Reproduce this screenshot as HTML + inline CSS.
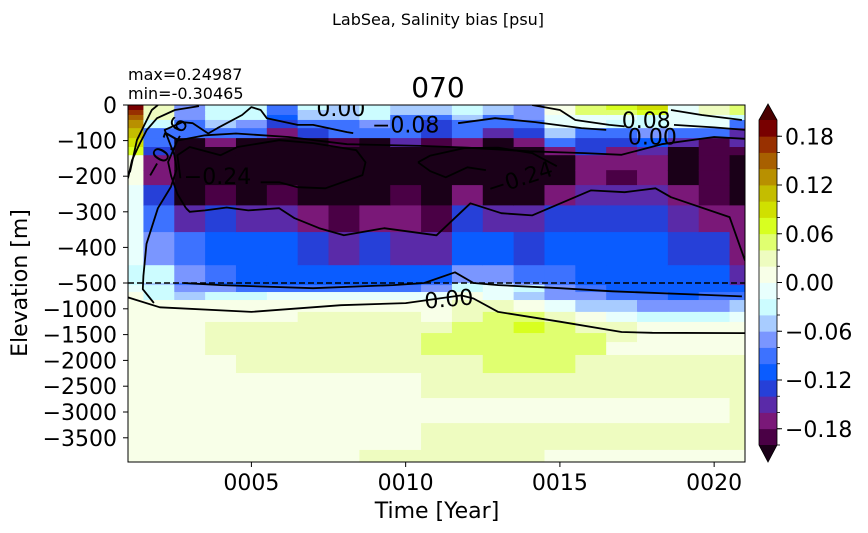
<!DOCTYPE html>
<html><head><meta charset="utf-8">
<style>
body{margin:0;background:#fff;}
svg{display:block;font-family:"DejaVu Sans","Liberation Sans",sans-serif;}
</style></head>
<body>
<svg id="chart" width="868" height="533" viewBox="0 0 868 533" xmlns="http://www.w3.org/2000/svg">
<text x="438" y="25" font-size="16" text-anchor="middle">LabSea, Salinity bias [psu]</text>
<text x="438" y="97" font-size="28" text-anchor="middle">070</text>
<text x="128" y="80" font-size="16">max=0.24987</text>
<text x="128" y="99" font-size="16">min=-0.30465</text>
<text transform="translate(27,283) rotate(-90)" font-size="22" text-anchor="middle">Elevation [m]</text>
<text x="437" y="518" font-size="22" text-anchor="middle">Time [Year]</text>
<defs><clipPath id="plotclip"><rect x="128" y="105" width="617" height="357"/></clipPath></defs>
<g id="cells" clip-path="url(#plotclip)"></g>
<g id="contours" clip-path="url(#plotclip)"></g>
<line x1="128" y1="283" x2="745" y2="283" stroke="#000" stroke-width="1.6" stroke-dasharray="6,3"/>
<rect x="128" y="105" width="617" height="357" fill="none" stroke="#000" stroke-width="1"/>
<g id="axes"></g>
<g id="cbar"></g>
</svg>
<script>
// ---- data ----
const years = [1,2,3,4,5,6,7,8,9,10,11,12,13,14,15,16,17,18,19,20,21];
const upperDepthEdges = [0,14,28,42,65,93,118,141,183,225,282,357,450,500];
// upper section: one array per year column (13 depth rows, top->bottom)
const upperByYear = [
[0.19,0.17,0.15,0.13,0.11,0.09,0.07,0.01,0.01,-0.01,-0.01,-0.01,-0.03],
[0.03,0.03,0.03,-0.03,-0.09,-0.09,-0.13,-0.17,-0.17,-0.13,-0.09,-0.07,-0.03],
[-0.07,-0.07,-0.07,-0.09,-0.09,-0.25,-0.25,-0.25,-0.25,-0.25,-0.15,-0.09,-0.07],
[-0.03,-0.03,-0.03,-0.05,-0.09,-0.17,-0.25,-0.25,-0.25,-0.19,-0.13,-0.11,-0.09],
[-0.03,-0.03,-0.03,-0.07,-0.09,-0.25,-0.25,-0.25,-0.25,-0.25,-0.15,-0.11,-0.11],
[-0.09,-0.09,-0.11,-0.13,-0.17,-0.25,-0.25,-0.25,-0.25,-0.19,-0.15,-0.11,-0.11],
[-0.03,-0.05,-0.05,-0.09,-0.13,-0.25,-0.25,-0.25,-0.25,-0.25,-0.17,-0.13,-0.11],
[-0.05,-0.05,-0.05,-0.09,-0.09,-0.19,-0.25,-0.25,-0.25,-0.25,-0.19,-0.15,-0.11],
[-0.03,-0.03,-0.03,-0.07,-0.09,-0.25,-0.25,-0.25,-0.25,-0.25,-0.17,-0.13,-0.11],
[-0.05,-0.05,-0.09,-0.09,-0.09,-0.15,-0.25,-0.25,-0.25,-0.19,-0.17,-0.15,-0.11],
[-0.05,-0.05,-0.09,-0.13,-0.13,-0.19,-0.25,-0.25,-0.25,-0.25,-0.19,-0.15,-0.11],
[-0.03,-0.03,-0.05,-0.09,-0.09,-0.17,-0.25,-0.25,-0.25,-0.17,-0.13,-0.11,-0.07],
[-0.05,-0.05,-0.09,-0.09,-0.15,-0.25,-0.25,-0.25,-0.25,-0.25,-0.15,-0.11,-0.07],
[-0.07,-0.07,-0.07,-0.09,-0.13,-0.17,-0.25,-0.25,-0.25,-0.25,-0.15,-0.13,-0.09],
[0.01,0.01,-0.01,-0.01,-0.05,-0.09,-0.17,-0.25,-0.25,-0.17,-0.13,-0.11,-0.09],
[0.05,0.05,-0.01,-0.01,-0.09,-0.13,-0.13,-0.17,-0.17,-0.15,-0.13,-0.11,-0.11],
[0.07,0.05,-0.01,-0.03,-0.09,-0.13,-0.17,-0.17,-0.19,-0.15,-0.13,-0.11,-0.11],
[0.09,0.07,-0.03,-0.03,-0.07,-0.11,-0.15,-0.17,-0.17,-0.15,-0.13,-0.11,-0.11],
[-0.01,-0.01,-0.01,-0.01,-0.09,-0.15,-0.25,-0.25,-0.25,-0.17,-0.15,-0.13,-0.11],
[0.03,0.03,-0.01,-0.01,-0.09,-0.19,-0.19,-0.19,-0.19,-0.19,-0.17,-0.13,-0.11],
[0.05,0.05,-0.03,-0.09,-0.15,-0.15,-0.19,-0.25,-0.25,-0.25,-0.17,-0.17,-0.15]
];
const lowerDepthEdges = [500,540,675,830,1060,1255,1470,1645,1895,2245,2730,3215,3735,3970];
// lower section: one array per depth row (21 year columns)
const lowerByDepth = [
[-0.03,-0.05,-0.09,-0.11,-0.11,-0.11,-0.11,-0.11,-0.11,-0.11,-0.09,-0.03,-0.05,-0.07,-0.09,-0.11,-0.11,-0.11,-0.11,-0.11,-0.15],
[-0.01,-0.03,-0.07,-0.07,-0.09,-0.09,-0.09,-0.09,-0.09,-0.09,-0.07,-0.03,-0.01,-0.03,-0.07,-0.09,-0.11,-0.11,-0.11,-0.11,-0.11],
[0.01,-0.03,-0.05,-0.03,-0.03,-0.01,-0.01,-0.01,-0.01,-0.01,-0.01,0.01,-0.01,-0.05,-0.07,-0.07,-0.09,-0.09,-0.11,-0.09,-0.09],
[0.01,0.01,0.01,0.01,0.01,0.01,0.01,0.01,0.01,0.01,0.01,0.03,0.03,0.01,-0.01,-0.05,-0.05,-0.07,-0.07,-0.07,-0.05],
[0.01,0.01,0.01,0.01,0.01,0.01,0.03,0.03,0.03,0.03,0.01,0.03,0.05,0.05,0.03,0.01,-0.01,-0.03,-0.03,-0.03,-0.01],
[0.01,0.01,0.01,0.03,0.03,0.03,0.03,0.03,0.03,0.03,0.03,0.05,0.05,0.07,0.05,0.03,0.03,0.01,0.01,0.01,0.01],
[0.01,0.01,0.01,0.03,0.03,0.03,0.03,0.03,0.03,0.03,0.05,0.05,0.05,0.05,0.05,0.05,0.03,0.01,0.01,0.01,0.01],
[0.01,0.01,0.01,0.03,0.03,0.03,0.03,0.03,0.03,0.03,0.05,0.05,0.05,0.05,0.05,0.05,0.01,0.01,0.01,0.01,0.01],
[0.01,0.01,0.01,0.01,0.03,0.03,0.03,0.03,0.03,0.03,0.03,0.03,0.05,0.05,0.05,0.03,0.03,0.03,0.03,0.03,0.03],
[0.01,0.01,0.01,0.01,0.01,0.01,0.01,0.01,0.01,0.01,0.03,0.03,0.03,0.03,0.03,0.03,0.03,0.03,0.03,0.03,0.03],
[0.01,0.01,0.01,0.01,0.01,0.01,0.01,0.01,0.01,0.01,0.01,0.01,0.01,0.01,0.01,0.01,0.01,0.01,0.01,0.01,0.03],
[0.01,0.01,0.01,0.01,0.01,0.01,0.01,0.01,0.01,0.01,0.03,0.03,0.03,0.03,0.03,0.03,0.03,0.03,0.03,0.03,0.03],
[0.01,0.01,0.01,0.01,0.01,0.01,0.01,0.01,0.03,0.03,0.03,0.03,0.03,0.03,0.01,0.01,0.01,0.01,0.01,0.01,0.01]
];
const levelColors = ["#4a0045","#7a1878","#5a2aa8","#2640d8","#0a5cff","#3d72ff","#7a96ff","#a8ccff","#ccfcff","#e8fffd","#f8ffe8","#eefcc0","#e0ff70","#d8ff20","#d0e000","#c4bd00","#b89000","#a86000","#983000","#780000"];
const underColor = "#1a0018", overColor = "#4a0000";
const yTickValues = [0,-100,-200,-300,-400,-500,-1000,-1500,-2000,-2500,-3000,-3500];
const xTickYears = [5,10,15,20];
const xTickLabels = ["0005","0010","0015","0020"];
const cbarTickValues = [0.18,0.12,0.06,0.00,-0.06,-0.12,-0.18];
// contours in data space [year, depth m]
const contourLines = [
 {level:"0.08", pts:[[1.06,189],[1.29,99],[1.48,65],[1.77,14],[1.97,0]]},
 {level:"0.00", pts:[[1.0,206],[1.13,155],[1.39,107],[1.61,70],[1.94,37],[2.52,14],[3.3,3]]},
 {level:"-0.08", pts:[[1.84,887],[1.48,620],[1.5,480],[1.6,390],[1.97,290],[2.39,230],[2.58,180],[2.5,140],[2.19,70],[2.19,70],[2.77,48],[3.1,51],[3.6,80],[3.9,65],[4.7,28],[5.0,6],[5.3,14],[5.5,37],[6.5,56],[7.0,56],[8.1,76],[8.3,79]]},
 {level:"-0.08b", pts:[[11.7,51],[12.9,37],[14.2,48],[15.7,65],[16.5,70]]},
 {level:"-0.08c", pts:[[2.8,500],[4.0,540],[7.0,600],[9.6,540],[10.6,500],[11.6,470],[12.2,500],[13.0,540],[15.0,600],[16.7,660],[19.7,730],[20.9,760]]},
 {level:"0.00b", pts:[[1.0,780],[2.03,970],[5.0,1060],[7.9,930],[10.0,890],[11.8,740],[12.2,800],[13.0,1060],[15.0,1250],[17.0,1450],[18.0,1465],[21.0,1470]]},
 {level:"0.08b", pts:[[14.1,0],[15.0,14],[15.5,42],[16.6,56],[17.1,60]]},
 {level:"0.08c", pts:[[18.6,14],[19.6,28],[20.9,42]]},
 {level:"0.00c", pts:[[18.7,56],[20.0,63],[21.0,70]]},
 {level:"-0.16", pts:[[2.88,290],[2.6,250],[2.4,200],[2.3,160],[2.6,100],[3.5,85],[4.5,80],[6.2,90],[8.1,110],[10.5,115],[12.0,120],[14.0,130],[15.8,135],[17.0,140],[18.3,110],[20.0,90],[21,95]]},
 {level:"-0.16b", pts:[[2.88,290],[3.0,300],[3.5,296],[4.2,288],[4.9,296],[5.9,290],[6.4,318],[7.2,346],[8.0,366],[9.3,346],[11.0,366],[11.0,366],[12.1,276],[13.1,304],[14.1,310],[16.0,240],[17.1,245],[18.1,234],[18.6,259],[20.5,315],[21.0,437]]},
 {level:"-0.24", pts:[[2.7,206],[2.6,141],[3.0,118],[4.0,141],[4.55,118],[5.9,99],[7.0,107],[8.4,127],[8.7,161],[8.6,197],[7.4,234],[6.5,231],[5.9,217],[5.3,217]]},
 {level:"-0.24b", pts:[[10.4,161],[10.8,142],[11.9,121],[13.0,120],[14.1,135],[14.9,172]]},
 {level:"-0.24c", pts:[[12.6,183],[12.0,175],[11.3,203],[10.8,186],[10.4,161]]}
];
const contourLabels = [
 {text:"0.00", year:7.9, depth:8, rot:0},
 {text:"\u22120.08", year:10.0, depth:55, rot:0},
 {text:"\u22120.16", year:2.2, depth:120, rot:-60},
 {text:"\u22120.24", year:3.9, depth:200, rot:0},
 {text:"\u22120.24", year:13.7, depth:205, rot:-18},
 {text:"0.08", year:17.8, depth:42, rot:0},
 {text:"0.00", year:18.0, depth:88, rot:0},
 {text:"0.00", year:11.4, depth:800, rot:-5}
];
</script>
<script>
const NS="http://www.w3.org/2000/svg";
const X0=128, XW=617, T0=1, T1=21;
function xOf(t){return X0+(t-T0)/(T1-T0)*XW;}
function yOf(d){return d<=500 ? 105+d*0.356 : 283+(d-500)*0.0516;}
function colorOf(v){
  if(v< -0.2) return underColor;
  if(v>=0.2) return overColor;
  let i=Math.floor((v+0.2)/0.02+1e-9); i=Math.max(0,Math.min(19,i));
  return levelColors[i];
}
function mk(tag,attrs,parent){const e=document.createElementNS(NS,tag);for(const k in attrs)e.setAttribute(k,attrs[k]);parent.appendChild(e);return e;}
const cells=document.getElementById('cells');
function cellX(k){const t=years[k];const a=Math.max(T0,t-0.5),b=Math.min(T1,t+0.5);return [xOf(a),xOf(b)];}
upperByYear.forEach((col,k)=>{
  const [xa,xb]=cellX(k);
  col.forEach((v,r)=>{
    const ya=yOf(upperDepthEdges[r]), yb=yOf(upperDepthEdges[r+1]);
    const c=mk('rect',{x:xa.toFixed(2),y:ya.toFixed(2),width:(xb-xa+0.6).toFixed(2),height:(yb-ya+0.6).toFixed(2),fill:colorOf(v)},cells);
    
    
  });
});
lowerByDepth.forEach((row,r)=>{
  const ya=yOf(lowerDepthEdges[r]), yb=yOf(lowerDepthEdges[r+1]);
  row.forEach((v,k)=>{
    const [xa,xb]=cellX(k);
    const c=mk('rect',{x:xa.toFixed(2),y:ya.toFixed(2),width:(xb-xa+0.6).toFixed(2),height:(yb-ya+0.6).toFixed(2),fill:colorOf(v)},cells);
    
    
  });
});
const cg=document.getElementById('contours');
contourLines.forEach(cl=>{
  const d=cl.pts.map((p,i)=>(i?'L':'M')+xOf(p[0]).toFixed(1)+','+yOf(p[1]).toFixed(1)).join(' ');
  const p=mk('path',{d:d,fill:'none',stroke:'#000','stroke-width':1.8,'stroke-linejoin':'round'},cg);
  
  
});
contourLabels.forEach(lb=>{
  const x=xOf(lb.year), y=yOf(lb.depth);
  const t=mk('text',{x:x.toFixed(1),y:(y+8).toFixed(1),'font-size':22,'text-anchor':'middle',transform:`rotate(${lb.rot},${x.toFixed(1)},${y.toFixed(1)})`},cg);
  t.textContent=lb.text;
  
  
});
const ax=document.getElementById('axes');
yTickValues.forEach(v=>{
  const y=yOf(-v);
  const l=mk('line',{x1:123,x2:128,y1:y,y2:y,stroke:'#000','stroke-width':1},ax);
  
  
  const t=mk('text',{x:117,y:(y+8).toFixed(1),'font-size':22,'text-anchor':'end'},ax);
  t.textContent=v===0?'0':'\u2212'+Math.abs(v);
  
  
});
xTickYears.forEach((yr,i)=>{
  const x=xOf(yr);
  const l=mk('line',{x1:x,x2:x,y1:462,y2:467,stroke:'#000','stroke-width':1},ax);
  
  
  const t=mk('text',{x:x,y:490,'font-size':22,'text-anchor':'middle'},ax);
  t.textContent=xTickLabels[i];
  
  
});
const cb=document.getElementById('cbar');
const CX=759, CW=18, CT=120, CB=445;
function cbY(v){return CB-(v+0.2)/0.4*(CB-CT);}
levelColors.forEach((c,i)=>{
  const v0=-0.2+i*0.02, ya=cbY(v0+0.02), yb=cbY(v0);
  const r=mk('rect',{x:CX,y:ya.toFixed(2),width:CW,height:(yb-ya+0.4).toFixed(2),fill:c},cb);
  
  
  const tk=mk('line',{x1:CX+CW,x2:CX+CW+3,y1:yb,y2:yb,stroke:'#000','stroke-width':0.8},cb);
  
  
});
const triT=mk('polygon',{points:`${CX},${CT} ${CX+CW},${CT} ${CX+CW/2},104`,fill:overColor},cb);


const triB=mk('polygon',{points:`${CX},${CB} ${CX+CW},${CB} ${CX+CW/2},462`,fill:underColor},cb);


const outline=mk('polygon',{points:`${CX},${CT} ${CX+CW/2},104 ${CX+CW},${CT} ${CX+CW},${CB} ${CX+CW/2},462 ${CX},${CB}`,fill:'none',stroke:'#000','stroke-width':0.8},cb);


cbarTickValues.forEach(v=>{
  const y=cbY(v);
  const l=mk('line',{x1:CX+CW,x2:CX+CW+5,y1:y,y2:y,stroke:'#000','stroke-width':1},cb);
  
  
  const t=mk('text',{x:785,y:(y+8).toFixed(1),'font-size':22},cb);
  t.textContent=(v<0?'\u2212':'')+Math.abs(v).toFixed(2);
  
  
});
</script>
</body></html>
